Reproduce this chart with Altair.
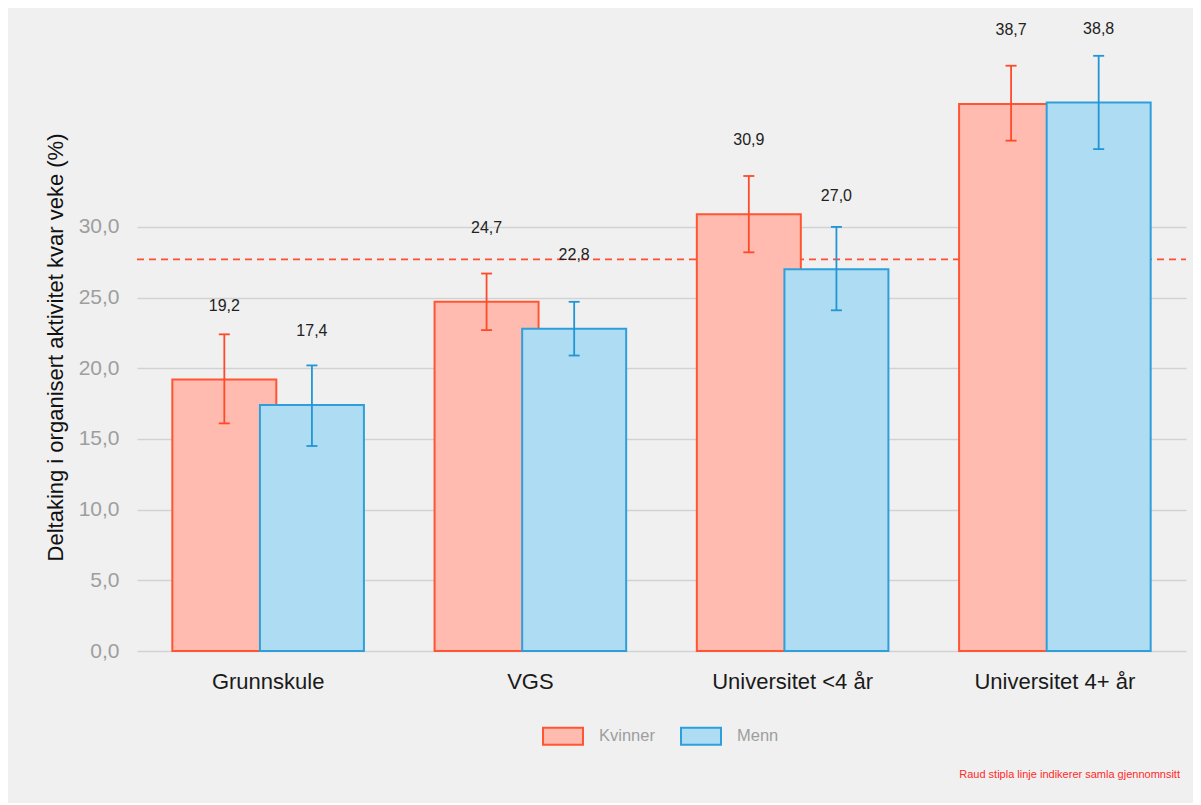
import altair as alt
import pandas as pd

# ---- data ----
kategoriar = ["Grunnskule", "VGS", "Universitet <4 år", "Universitet 4+ år"]
kjonn = ["Kvinner", "Menn"]
kvinner = [19.2, 24.7, 30.9, 38.7]
menn = [17.4, 22.8, 27.0, 38.8]
kvinner_lo = [16.1, 22.7, 28.2, 36.1]
kvinner_hi = [22.4, 26.7, 33.6, 41.4]
menn_lo = [14.5, 20.9, 24.1, 35.5]
menn_hi = [20.2, 24.7, 30.0, 42.1]
snitt = [27.7]
label_gap = 5
y_title = "Deltaking i organisert aktivitet kvar veke (%)"
caption = "Raud stipla linje indikerer samla gjennomnsitt"

rows = []
for i, k in enumerate(kategoriar):
    rows.append(dict(kategori=k, kjonn="Kvinner", verdi=kvinner[i], lo=kvinner_lo[i], hi=kvinner_hi[i]))
    rows.append(dict(kategori=k, kjonn="Menn", verdi=menn[i], lo=menn_lo[i], hi=menn_hi[i]))
df = pd.DataFrame(rows)

W, H = 1060, 639
OFF = 43.8
BARW = 104
FILLS = ["#FFBBAF", "#AEDCF2"]
STROKES = ["#FF5533", "#2E9FDB"]
ERR = ["#FF4A2A", "#2196D6"]

xscale = alt.Scale(range=[11, 1060], paddingInner=0, paddingOuter=0)
yscale = alt.Scale(domain=[0, 45.2], nice=False, zero=True)

x_enc = alt.X(
    "kategori:N", sort=kategoriar, scale=xscale, title=None,
    axis=alt.Axis(labelFontSize=22, labelColor="#1a1a1a", labelPadding=20,
                  domain=False, ticks=False, labelAngle=0, grid=False),
)

y_axis = alt.Axis(
    values=[0, 5, 10, 15, 20, 25, 30],
    labelExpr="replace(format(datum.value, '.1f'), '.', ',')",
    labelFontSize=21, labelColor="#9E9E9E", labelPadding=7,
    domain=False, ticks=False, tickSize=0,
    grid=True, gridColor="#D2D2D2", gridWidth=1.3,
    titleFontSize=22, titleFontWeight="normal", titleColor="#111111",
    titleAngle=-90, titleX=-64, titleY=335, titleAlign="center",
    titleBaseline="alphabetic",
)

legend = alt.Legend(
    title=None, orient="none", legendX=416, legendY=703, direction="horizontal",
    symbolType="M-1,-0.425H1V0.425H-1Z", symbolSize=1600, symbolStrokeWidth=2,
    labelFontSize=16.5, labelColor="#9E9E9E", labelOffset=15, columnPadding=22,
    padding=0, symbolOpacity=1,
)

fill_enc = alt.Fill("kjonn:N", scale=alt.Scale(domain=kjonn, range=FILLS), legend=legend)
stroke_enc = alt.Stroke("kjonn:N", scale=alt.Scale(domain=kjonn, range=STROKES), legend=legend)

base = alt.Chart(df)

mean_rule = alt.Chart(pd.DataFrame({"snitt": snitt})).mark_rule(
    strokeDash=[7, 5], color="#FF4F33", strokeWidth=1.7
).encode(
    y=alt.Y("snitt:Q", scale=yscale, title=y_title, axis=y_axis),
    x=alt.value(11), x2=alt.value(1060),
)

layers = [mean_rule]
for i, kj in enumerate(kjonn):
    off = -OFF if i == 0 else OFF
    sub = base.transform_filter(alt.datum.kjonn == kj)
    layers.append(
        sub.mark_bar(width=BARW, xOffset=off, strokeWidth=2, opacity=1).encode(
            x=x_enc,
            y=alt.Y("verdi:Q", scale=yscale, title=y_title, axis=y_axis),
            fill=fill_enc, stroke=stroke_enc,
        )
    )
for i, kj in enumerate(kjonn):
    off = -OFF if i == 0 else OFF
    sub = base.transform_filter(alt.datum.kjonn == kj)
    layers.append(
        sub.mark_rule(xOffset=off, strokeWidth=1.8, color=ERR[i]).encode(
            x=x_enc,
            y=alt.Y("lo:Q", scale=yscale, title=y_title, axis=y_axis),
            y2="hi:Q",
        )
    )
    for fld in ["lo", "hi"]:
        layers.append(
            sub.mark_tick(orient="horizontal", size=11, thickness=1.8, xOffset=off,
                          color=ERR[i], opacity=1).encode(
                x=x_enc,
                y=alt.Y(f"{fld}:Q", scale=yscale, title=y_title, axis=y_axis),
            )
        )
    layers.append(
        sub.transform_calculate(
            lab_y=f"datum.verdi + {label_gap}",
            lab="replace(format(datum.verdi, '.1f'), '.', ',')",
        ).mark_text(xOffset=off, dy=-3, fontSize=16, color="#222222").encode(
            x=x_enc,
            y=alt.Y("lab_y:Q", scale=yscale, title=y_title, axis=y_axis),
            text="lab:N",
        )
    )

cap = alt.Chart(pd.DataFrame({"t": [caption]})).mark_text(
    align="right", baseline="middle", fontSize=11, color="#FF2A2A"
).encode(text="t:N", x=alt.value(1054), y=alt.value(763))
layers.append(cap)

chart = (
    alt.layer(*layers)
    .properties(
        width=W, height=H,
        background="#F0F0F0",
        padding={"left": 118, "top": 4, "right": 7, "bottom": 152},
        autosize=alt.AutoSizeParams(type="none"),
    )
    .configure(font="Liberation Sans")
    .configure_view(stroke="transparent", strokeWidth=0)
    .configure_axis(domain=False)
    .configure_axisX(grid=False, domain=False)
    .configure_axisY(domain=False)
)

chart.save("out.html", embed_options={"renderer": "svg", "actions": False})
